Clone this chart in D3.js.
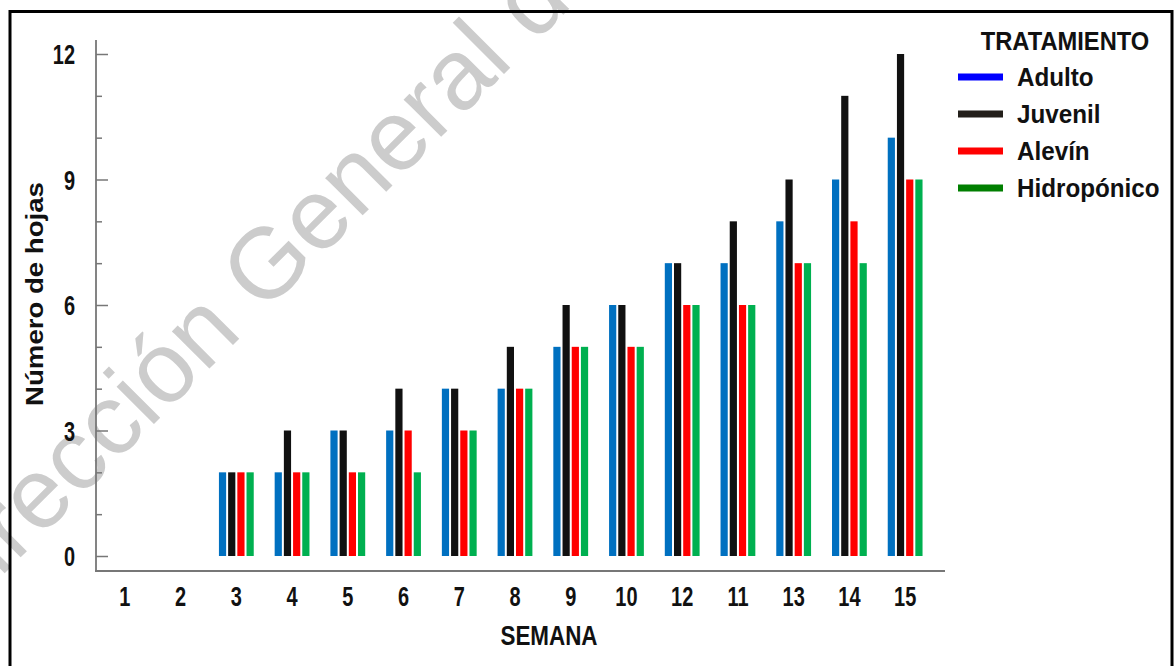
<!DOCTYPE html>
<html>
<head>
<meta charset="utf-8">
<script src="https://cdn.jsdelivr.net/npm/d3@7"></script>
<style>
  html, body { margin: 0; padding: 0; background: #fff; }
  svg { display: block; }
  .lab { font-family: 'Liberation Sans', Arial, sans-serif; font-weight: bold; fill: #111; }
</style>
</head>
<body>
<svg id="chart" width="1174" height="666"></svg>
<script>
// ---- data ----
const categories = ["1","2","3","4","5","6","7","8","9","10","12","11","13","14","15"];
const seriesNames = ["Adulto","Juvenil","Alevín","Hidropónico"];
const adulto      = [0,0,2,2,3,3,4,4,5,6,7,7,8,9,10];
const juvenil     = [0,0,2,3,3,4,4,5,6,6,7,8,9,11,12];
const alevin      = [0,0,2,2,2,3,3,4,5,5,6,6,7,8,9];
const hidroponico = [0,0,2,2,2,2,3,4,5,5,6,6,7,7,9];
const yTicks = [0,3,6,9,12];
const yMinorTicks = [1,2,4,5,7,8,10,11];
const barColors = ["#0070C0","#111111","#FF0000","#00B050"];
const legendColors = ["#0000FF","#231F1A","#FF0000","#007F00"];

const seriesValues = [adulto, juvenil, alevin, hidroponico];

const svg = d3.select("#chart");

// helper: text with horizontal scaling
function sText(parent, tx, ty, str, size, sx, anchor, rot) {
  const g = parent.append("g").attr("transform", `translate(${tx},${ty})` + (rot ? ` rotate(${rot})` : ""));
  return g.append("text").attr("class", "lab").attr("font-size", size)
    .attr("text-anchor", anchor || "start")
    .attr("transform", `scale(${sx},1)`).text(str);
}

// watermark
svg.append("text")
  .attr("transform", "translate(-51,629) rotate(-45)")
  .attr("font-family", "'Liberation Sans', Arial, sans-serif")
  .attr("font-size", 100)
  .attr("fill", "#cccccc")
  .text("Dirección General de Bibliotecas");

// outer frame
svg.append("rect")
  .attr("x", 10).attr("y", 11.5).attr("width", 1162).attr("height", 700)
  .attr("fill", "none").attr("stroke", "#000").attr("stroke-width", 3);

// scales
const x = d3.scaleBand().domain(categories).range([97, 933]).padding(0);
const xs = d3.scaleBand().domain(seriesNames).range([-17.4, 17.4]).paddingInner(0.217).paddingOuter(0);
const y = d3.scaleLinear().domain([0, 12]).range([556, 54]);

// bars
const rows = [];
categories.forEach((c, i) => {
  seriesNames.forEach((s, j) => {
    rows.push({cat: c, series: s, value: seriesValues[j][i], color: barColors[j]});
  });
});
svg.append("g").selectAll("rect")
  .data(rows.filter(d => d.value > 0))
  .join("rect")
  .attr("x", d => x(d.cat) + x.bandwidth() / 2 + xs(d.series))
  .attr("width", xs.bandwidth())
  .attr("y", d => y(d.value))
  .attr("height", d => y(0) - y(d.value))
  .attr("fill", d => d.color);

const TSX = 0.74;
// y axis
const yAxisG = svg.append("g").attr("transform", "translate(96,0)");
yAxisG.call(d3.axisLeft(y).tickValues(yTicks).tickSizeInner(-12).tickSizeOuter(0).tickPadding(21).tickFormat(d3.format("d")));
yAxisG.select(".domain").remove();
yAxisG.selectAll(".tick line").attr("stroke", "#777").attr("stroke-width", 1.5);
yAxisG.selectAll(".tick text").attr("class", "lab").attr("font-size", 27).attr("dy", "0.36em")
  .attr("x", -21 / TSX).attr("transform", `scale(${TSX},1)`);
const yMinor = svg.append("g").attr("transform", "translate(96,0)");
yMinor.call(d3.axisLeft(y).tickValues(yMinorTicks).tickSizeInner(-6).tickSizeOuter(0).tickFormat(""));
yMinor.select(".domain").remove();
yMinor.selectAll(".tick line").attr("stroke", "#777").attr("stroke-width", 1.5);
svg.append("line").attr("x1", 96).attr("x2", 96).attr("y1", 40).attr("y2", 571.5)
  .attr("stroke", "#777").attr("stroke-width", 1.8);

// x axis
const xAxisG = svg.append("g").attr("transform", "translate(0,571)");
xAxisG.call(d3.axisBottom(x).tickSize(0).tickPadding(16));
xAxisG.select(".domain").remove();
xAxisG.selectAll(".tick text").attr("class", "lab").attr("font-size", 27)
  .attr("transform", `scale(${TSX},1)`);
svg.append("line").attr("x1", 95).attr("x2", 945).attr("y1", 571).attr("y2", 571)
  .attr("stroke", "#777").attr("stroke-width", 1.8);

// axis titles
sText(svg, 549, 645, "SEMANA", 27, 0.83, "middle");
sText(svg, 43, 294, "Número de hojas", 23, 1.2, "middle", -90);

// legend
sText(svg, 1065, 50, "TRATAMIENTO", 25.5, 0.93, "middle");
const ly = d3.scalePoint().domain(seriesNames).range([77, 188]);
const items = svg.append("g").selectAll("g.item").data(seriesNames).join("g").attr("class", "item")
  .attr("transform", d => `translate(0,${ly(d)})`);
items.append("line").attr("x1", 958).attr("x2", 1003).attr("y1", 0).attr("y2", 0)
  .attr("stroke", (d, i) => legendColors[i]).attr("stroke-width", 7);
items.append("text").attr("class", "lab").attr("font-size", 25.5)
  .attr("x", 1017 / 0.95).attr("y", 0).attr("dy", "0.36em")
  .attr("transform", "scale(0.95,1)").text(d => d);
</script>
</body>
</html>
